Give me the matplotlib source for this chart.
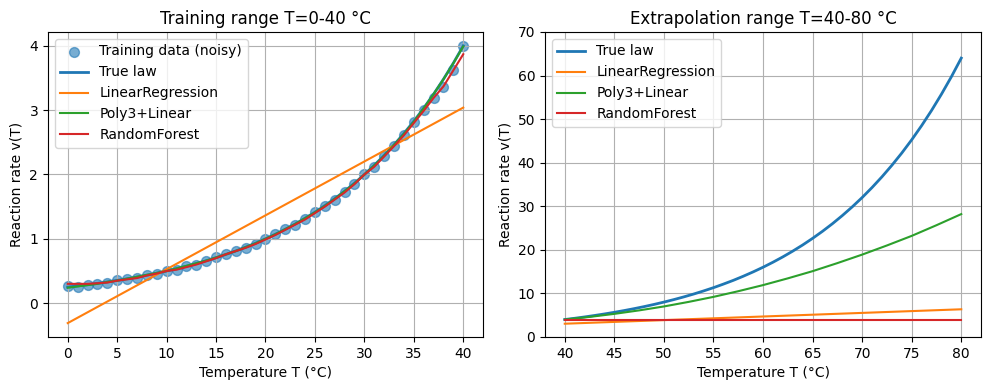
import matplotlib
matplotlib.use("Agg")
import matplotlib.pyplot as plt

# ---- Data ----
T_train = list(range(0, 41))
v_noisy = [0.26, 0.25, 0.29, 0.30, 0.32, 0.36, 0.37, 0.39, 0.43, 0.46,
           0.50, 0.52, 0.57, 0.60, 0.66, 0.71, 0.77, 0.81, 0.86, 0.92,
           0.99, 1.07, 1.15, 1.22, 1.31, 1.41, 1.51, 1.61, 1.73, 1.85,
           2.01, 2.12, 2.29, 2.44, 2.62, 2.81, 3.00, 3.19, 3.36, 3.63, 3.99]
v_true_train = [0.250, 0.268, 0.287, 0.308, 0.330, 0.354, 0.379, 0.406, 0.435, 0.467,
                0.500, 0.536, 0.574, 0.616, 0.660, 0.707, 0.758, 0.812, 0.871, 0.933,
                1.000, 1.072, 1.149, 1.231, 1.320, 1.414, 1.516, 1.625, 1.741, 1.866,
                2.000, 2.144, 2.297, 2.462, 2.639, 2.828, 3.031, 3.249, 3.482, 3.732, 4.000]
lin_train_T = [0, 40]
lin_train_v = [-0.31, 3.04]
poly_train = [0.24, 0.26, 0.28, 0.30, 0.33, 0.35, 0.38, 0.41, 0.44, 0.47,
              0.50, 0.54, 0.58, 0.62, 0.66, 0.71, 0.76, 0.81, 0.87, 0.93,
              1.00, 1.07, 1.15, 1.23, 1.32, 1.41, 1.51, 1.62, 1.74, 1.86,
              2.00, 2.14, 2.29, 2.46, 2.63, 2.82, 3.03, 3.25, 3.48, 3.73, 3.99]
rf_train = [0.30, 0.30, 0.30, 0.31, 0.32, 0.35, 0.37, 0.39, 0.43, 0.46,
            0.50, 0.52, 0.56, 0.60, 0.65, 0.70, 0.76, 0.81, 0.86, 0.92,
            0.99, 1.06, 1.14, 1.22, 1.30, 1.40, 1.50, 1.61, 1.72, 1.85,
            2.00, 2.12, 2.28, 2.44, 2.61, 2.80, 2.99, 3.19, 3.37, 3.62, 3.87]

T_ext = list(range(40, 81))
v_true_ext = [4.000, 4.287, 4.595, 4.925, 5.278, 5.657, 6.063, 6.498, 6.964, 7.464,
              8.000, 8.574, 9.190, 9.849, 10.56, 11.31, 12.13, 12.99, 13.93, 14.93,
              16.00, 17.15, 18.38, 19.70, 21.11, 22.63, 24.25, 25.99, 27.86, 29.86,
              32.00, 34.30, 36.76, 39.40, 42.22, 45.25, 48.50, 51.98, 55.72, 59.71, 64.00]
lin_ext_T = [40, 80]
lin_ext_v = [3.04, 6.35]
poly_ext_T = [40, 42.5, 45, 47.5, 50, 52.5, 55, 57.5, 60, 62.5, 65, 67.5, 70, 72.5, 75, 77.5, 80]
poly_ext_v = [4.0, 4.6, 5.3, 6.1, 7.0, 8.05, 9.2, 10.5, 11.9, 13.45, 15.1, 16.95,
              18.9, 21.0, 23.2, 25.65, 28.2]
rf_ext_T = [40, 80]
rf_ext_v = [3.85, 3.85]

fig = plt.figure(figsize=(9.89, 3.9), dpi=100)
ax1 = fig.add_axes([0.0485, 0.136, 0.4399, 0.782])
ax2 = fig.add_axes([0.551, 0.136, 0.441, 0.782])

ax1.scatter(T_train, v_noisy, s=50, alpha=0.6, color="C0", label="Training data (noisy)")
ax1.plot(T_train, v_true_train, color="C0", lw=2, label="True law")
ax1.plot(lin_train_T, lin_train_v, color="C1", lw=1.5, label="LinearRegression")
ax1.plot(T_train, poly_train, color="C2", lw=1.5, label="Poly3+Linear")
ax1.plot(T_train, rf_train, color="C3", lw=1.5, label="RandomForest")
ax1.set_title("Training range T=0-40 °C")
ax1.set_xlabel("Temperature T (°C)")
ax1.set_ylabel("Reaction rate v(T)")
ax1.grid(True)
ax1.legend(loc="upper left")

ax2.plot(T_ext, v_true_ext, color="C0", lw=2, label="True law")
ax2.plot(lin_ext_T, lin_ext_v, color="C1", lw=1.5, label="LinearRegression")
ax2.plot(poly_ext_T, poly_ext_v, color="C2", lw=1.5, label="Poly3+Linear")
ax2.plot(rf_ext_T, rf_ext_v, color="C3", lw=1.5, label="RandomForest")
ax2.set_ylim(0, 70)
ax2.set_title("Extrapolation range T=40-80 °C")
ax2.set_xlabel("Temperature T (°C)")
ax2.set_ylabel("Reaction rate v(T)")
ax2.grid(True)
ax2.legend(loc="upper left")

fig.savefig("out.png")
